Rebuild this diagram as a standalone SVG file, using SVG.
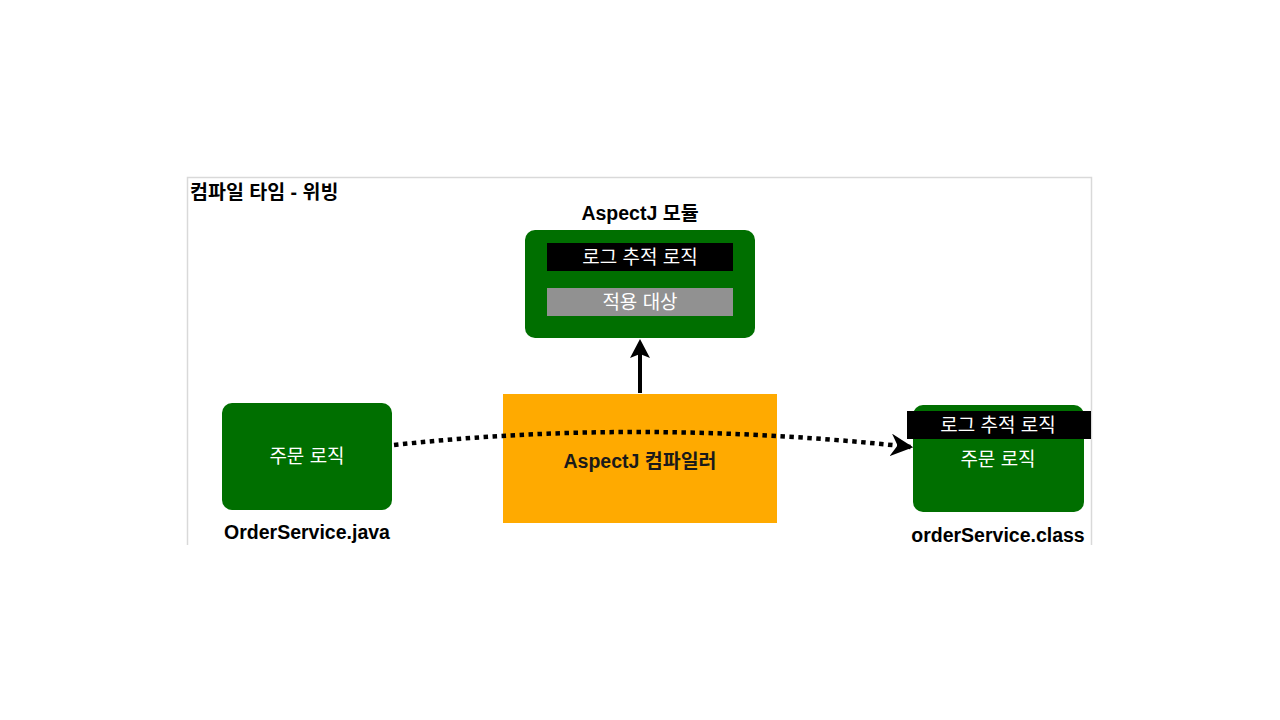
<svg xmlns="http://www.w3.org/2000/svg" width="1280" height="720" viewBox="0 0 1280 720">
<style>
.t{font-family:"Liberation Sans","Noto Sans CJK KR",sans-serif;}
.w{fill:#fff;font-size:19px;text-anchor:middle;}
.b{fill:#000;font-size:19.5px;font-weight:bold;text-anchor:middle;}
.g{fill:#006f00;}
</style>
<defs>
<marker id="ah" viewBox="0 0 10 10" refX="9" refY="5" markerWidth="5" markerHeight="5" orient="auto" markerUnits="strokeWidth">
<path d="M0,0 L10,5 L0,10 L3,5 Z" fill="#000"/>
</marker>
</defs>
<rect width="1280" height="720" fill="#fff"/>
<path d="M187.5,545 V177.5 H1091.5 V545" fill="none" stroke="#d9d9d9" stroke-width="1.5"/>
<text class="t" x="190" y="199" font-size="19.5" font-weight="bold">컴파일 타임 - 위빙</text>

<g id="compiler">
<rect x="503" y="394" width="274" height="129" fill="#ffaa00"/>
<text class="t" x="640" y="468" font-size="19.5" font-weight="bold" text-anchor="middle" fill="#1a1a1a">AspectJ 컴파일러</text>
</g>

<g id="module">
<text class="t b" x="640" y="220">AspectJ 모듈</text>
<rect class="g" x="525" y="230" width="230" height="108" rx="10"/>
<rect x="547" y="243" width="186" height="28" fill="#000"/>
<text class="t w" x="640" y="264">로그 추적 로직</text>
<rect x="547" y="288" width="186" height="28" fill="#919191"/>
<text class="t w" x="640" y="309">적용 대상</text>
</g>

<g id="source">
<rect class="g" x="222" y="403" width="170" height="107" rx="10"/>
<text class="t w" x="307" y="463">주문 로직</text>
<text class="t b" x="307" y="539">OrderService.java</text>
</g>

<g id="result">
<rect class="g" x="913" y="405" width="171" height="107" rx="10"/>
<rect x="907" y="411" width="184" height="28" fill="#000"/>
<text class="t w" x="998" y="432">로그 추적 로직</text>
<text class="t w" x="998" y="466">주문 로직</text>
<text class="t b" x="998" y="542">orderService.class</text>
</g>

<g id="connectors">
<path d="M394,445 Q640,418 911,447" fill="none" stroke="#000" stroke-width="4.5" stroke-dasharray="4.5 4.5" marker-end="url(#ah)"/>
<line x1="640" y1="393" x2="640" y2="350" stroke="#000" stroke-width="4"/>
<path d="M640,339 L650,358 L640,354 L630,358 Z" fill="#000"/>
</g>
</svg>
